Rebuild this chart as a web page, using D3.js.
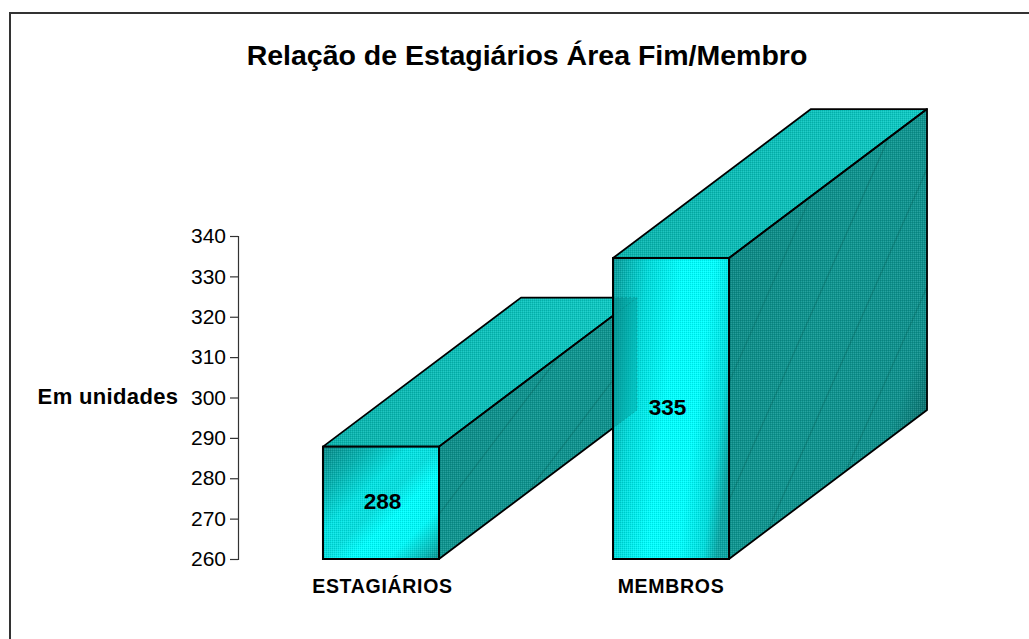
<!DOCTYPE html>
<html><head><meta charset="utf-8">
<script src="https://cdn.jsdelivr.net/npm/d3@7/dist/d3.min.js"></script>
<style>html,body{margin:0;padding:0;background:#fff}svg{display:block}text{font-family:"Liberation Sans",Arial,sans-serif;fill:#000}</style>
</head><body><div id="c"></div>
<script>
const categories=["ESTAGIÁRIOS","MEMBROS"];
const values=[288,335];
const tickValues=[260,270,280,290,300,310,320,330,340];
const chartTitle="Relação de Estagiários Área Fim/Membro";
const yTitle="Em unidades";

const W=1029,H=639;
const svg=d3.select("#c").append("svg").attr("width",W).attr("height",H);
const defs=svg.append("defs");
const y=d3.scaleLinear().domain([260,340]).range([559,236]);
const barY=d3.scaleLinear().domain([260,340]).range([559,238]);
const x=d3.scaleBand().domain(categories).range([238,814]).paddingInner(0.6).paddingOuter(0.293);
const bw=x.bandwidth();
const DX=198,DY=-149;

function grad(id,coords,stops){
  const g=defs.append("linearGradient").attr("id",id).attr("gradientUnits","objectBoundingBox");
  Object.entries(coords).forEach(([k,v])=>g.attr(k,v));
  stops.forEach(([o,c])=>g.append("stop").attr("offset",o).attr("stop-color",c));
}
grad("f0",{x1:0,y1:0,x2:1,y2:1},[[0,"#0b8c8a"],[0.2,"#06b4b2"],[0.38,"#02e4e4"],[0.5,"#06e0e0"],[0.62,"#00ffff"],[0.78,"#00fafa"],[0.92,"#06bcba"],[1,"#0a8e8c"]]);
grad("f1",{x1:0,y1:0,x2:1.1,y2:0.35},[[0,"#0a9a98"],[0.26,"#00dcdc"],[0.5,"#00ffff"],[0.72,"#00ffff"],[0.9,"#00dede"],[1,"#0aa6a4"]]);
grad("top",{x1:0,y1:0,x2:1,y2:0},[[0,"#0ab4ae"],[1,"#0ccac4"]]);
grad("side",{x1:0,y1:0,x2:1,y2:0.85},[[0,"#0a5a58"],[0.18,"#0c8a86"],[0.5,"#0e9590"],[0.82,"#0e918d"],[1,"#0a5654"]]);
grad("overlay",{x1:0,y1:0,x2:1,y2:0.3},[[0,"#007e7c"],[1,"#00a8a6"]]);

const p=defs.append("pattern").attr("id","dither").attr("width",2).attr("height",2).attr("patternUnits","userSpaceOnUse");
p.append("rect").attr("width",1).attr("height",1).attr("fill","#000").attr("opacity",0.12);
p.append("rect").attr("x",1).attr("y",1).attr("width",1).attr("height",1).attr("fill","#fff").attr("opacity",0.12);

// frame: top and left edges only, as in the reference
svg.append("path").attr("d",`M10,${H}V13H${W}`).attr("fill","none").attr("stroke","#333").attr("stroke-width",2);

svg.append("text").attr("x",527).attr("y",65).attr("text-anchor","middle")
  .attr("font-size",28.5).attr("font-weight",700).text(chartTitle);
svg.append("text").attr("x",108).attr("y",404).attr("text-anchor","middle")
  .attr("font-size",22).attr("font-weight",700).attr("letter-spacing",0.35).text(yTitle);

const ax=svg.append("g").attr("transform","translate(238,0)")
  .call(d3.axisLeft(y).tickValues(tickValues).tickSize(8).tickPadding(4).tickFormat(d3.format("d")));
ax.selectAll("path,line").attr("stroke","#333").attr("stroke-width",1.2);
ax.selectAll("text").attr("font-size",21).style("font-family",'"Liberation Sans",Arial,sans-serif').attr("fill","#000");

const pts=a=>a.map(q=>q.join(",")).join(" ");
const streakOffsets=[[1,73],[-51,1,53,105,157]];
const streakRefH=[46,179];
const streakSlant=[0.76,0.44];

function bar(c,v,i){
  const g=svg.append("g");
  const x0=x(c),x1=x0+bw,yt=barY(v),yb=barY(260);
  const topF=[[x0,yt],[x1,yt],[x1+DX,yt+DY],[x0+DX,yt+DY]];
  const sideF=[[x1,yt],[x1+DX,yt+DY],[x1+DX,yb+DY],[x1,yb]];
  g.append("polygon").attr("points",pts(sideF)).attr("fill","url(#side)");
  const clipId="sc"+i;
  defs.append("clipPath").attr("id",clipId).append("polygon").attr("points",pts(sideF));
  streakOffsets[i].forEach(o=>{
    const ry=yb-streakRefH[i], rx=x1+o, span=400;
    g.append("line").attr("clip-path",`url(#${clipId})`)
      .attr("x1",rx-span*streakSlant[i]).attr("y1",ry+span)
      .attr("x2",rx+span*streakSlant[i]).attr("y2",ry-span)
      .attr("stroke","#0a827c").attr("stroke-width",1.5);
  });
  g.append("polygon").attr("points",pts(sideF)).attr("fill","url(#dither)");
  g.append("polygon").attr("points",pts(topF)).attr("fill","url(#top)");
  g.append("polygon").attr("points",pts(topF)).attr("fill","url(#dither)");
  [topF,sideF].forEach(f=>g.append("polygon").attr("points",pts(f)).attr("fill","none")
    .attr("stroke","#000").attr("stroke-width",1.8).attr("stroke-linejoin","round"));
  g.append("rect").attr("x",x0).attr("y",yt).attr("width",bw).attr("height",yb-yt).attr("fill",`url(#f${i})`);
  g.append("rect").attr("x",x0).attr("y",yt).attr("width",bw).attr("height",yb-yt).attr("fill","url(#dither)");
  g.append("rect").attr("x",x0).attr("y",yt).attr("width",bw).attr("height",yb-yt).attr("fill","none").attr("stroke","#000").attr("stroke-width",2);
}
categories.forEach((c,i)=>bar(c,values[i],i));

// back of the first bar showing through the front of the second
{
  const [c0,c1]=categories;
  const bx=x(c0)+bw+DX, t=barY(values[0])+DY, b=barY(260)+DY, fx=x(c1);
  const rise=(bx-fx)*(-DY/DX);
  const ghost=[[fx,t],[bx,t],[bx,b],[fx,b+rise]];
  svg.append("polygon").attr("points",pts(ghost)).attr("fill","url(#overlay)").attr("opacity",0.5);
  svg.append("polyline").attr("points",pts(ghost)).attr("fill","none").attr("stroke","#067a76").attr("stroke-width",0.8).attr("stroke-dasharray","2,2").attr("opacity",0.5);
  svg.append("line").attr("x1",fx).attr("y1",t+rise).attr("x2",bx).attr("y2",t)
    .attr("stroke","#067a76").attr("stroke-width",0.8).attr("stroke-dasharray","2,2").attr("opacity",0.5);
  svg.append("line").attr("x1",fx).attr("x2",fx).attr("y1",barY(values[1])).attr("y2",barY(260)).attr("stroke","#000").attr("stroke-width",2);
}

const valueNudge=[1.5,-3.5];
const labelNudge=[1.5,0];
categories.forEach((c,i)=>{
  const cx=x(c)+bw/2;
  svg.append("text").attr("x",cx+valueNudge[i]).attr("y",(barY(values[i])+barY(260))/2+6.5)
    .attr("text-anchor","middle").attr("font-size",22.6).attr("font-weight",700).text(values[i]);
  svg.append("text").attr("x",cx+labelNudge[i]).attr("y",593).attr("text-anchor","middle")
    .attr("font-size",19.5).attr("font-weight",700).attr("letter-spacing",0.7).text(c);
});
</script></body></html>
